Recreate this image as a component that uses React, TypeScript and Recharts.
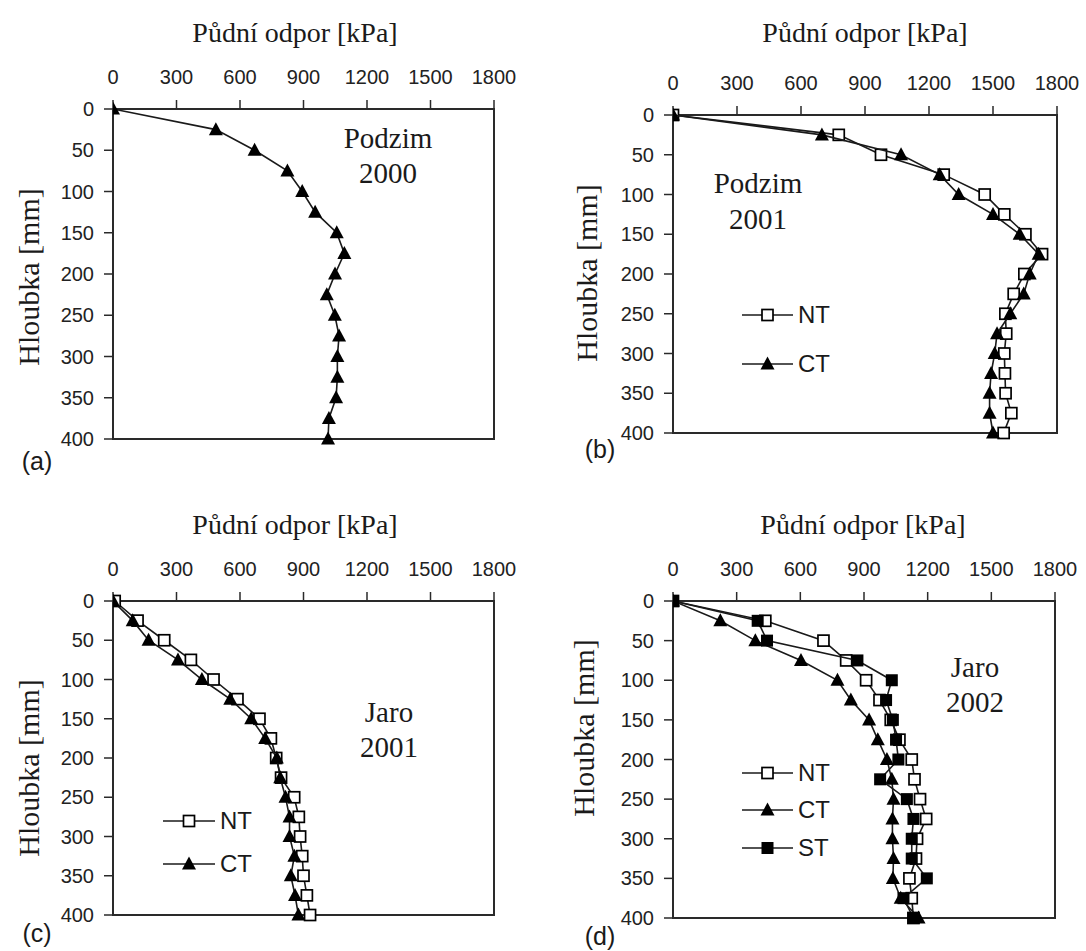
import { ScatterChart, Scatter, XAxis, YAxis, ReferenceArea } from 'recharts';

// hloubka [mm] – společná pro všechny panely
const DEPTHS = [0, 25, 50, 75, 100, 125, 150, 175, 200, 225, 250, 275, 300, 325, 350, 375, 400];
const KPA_TICKS = [0, 300, 600, 900, 1200, 1500, 1800];
const DEPTH_TICKS = [0, 50, 100, 150, 200, 250, 300, 350, 400];

// (a) Podzim 2000
const podzim2000CT = [0, 486, 669, 824, 894, 955, 1057, 1093, 1049, 1010, 1048, 1068, 1060, 1060, 1054, 1020, 1016];

// (b) Podzim 2001
const podzim2001NT = [0, 777, 975, 1269, 1461, 1553, 1652, 1730, 1647, 1597, 1558, 1562, 1553, 1556, 1559, 1586, 1550];
const podzim2001CT = [0, 698, 1069, 1250, 1339, 1500, 1625, 1714, 1672, 1644, 1581, 1519, 1508, 1491, 1484, 1484, 1500];

// (c) Jaro 2001
const jaro2001NT = [8, 116, 242, 368, 475, 588, 692, 746, 771, 794, 856, 878, 884, 894, 900, 916, 931];
const jaro2001CT = [0, 93, 168, 307, 420, 554, 653, 719, 774, 790, 815, 834, 834, 857, 840, 860, 876];

// (d) Jaro 2002
const jaro2002NT = [0, 435, 709, 816, 910, 973, 1026, 1067, 1125, 1138, 1164, 1193, 1150, 1145, 1114, 1125, 1133];
const jaro2002CT = [0, 223, 388, 603, 775, 838, 924, 965, 1008, 1031, 1039, 1034, 1034, 1039, 1036, 1073, 1157];
const jaro2002ST = [0, 399, 443, 869, 1031, 1004, 1036, 1051, 1062, 976, 1102, 1133, 1125, 1125, 1196, 1086, 1133];

const SERIF = '"Liberation Serif", "Times New Roman", serif';
const SANS = '"Liberation Sans", Arial, sans-serif';
const INK = '#1a1a1a';
const AXIS = '#2a2a2a';

type Mark = 'tri' | 'open' | 'solid';
type Series = { name: string; values: number[]; mark: Mark };
type Box = { x0: number; x1: number; y0: number; y1: number };

const toPoints = (values: number[]) => DEPTHS.map((d, i) => ({ depth: d, kpa: values[i] }));

const Triangle = (p: any) => (
  <polygon
    points={`${p.cx},${p.cy - 7.5} ${p.cx - 7},${p.cy + 5.5} ${p.cx + 7},${p.cy + 5.5}`}
    fill="#000"
  />
);
const OpenSquare = (p: any) => (
  <rect x={p.cx - 5.5} y={p.cy - 5.5} width={11} height={11} fill="#fff" stroke="#000" strokeWidth={1.7} />
);
const SolidSquare = (p: any) => (
  <rect x={p.cx - 6} y={p.cy - 6} width={12} height={12} fill="#000" />
);

const SHAPES: Record<Mark, (p: any) => JSX.Element> = {
  tri: Triangle,
  open: OpenSquare,
  solid: SolidSquare,
};

function Panel({ plot, series }: { plot: Box; series: Series[] }) {
  const pw = plot.x1 - plot.x0;
  const ph = plot.y1 - plot.y0;
  return (
    <div style={{ position: 'absolute', left: plot.x0 - 100, top: plot.y0 - 60 }}>
      <ScatterChart width={pw + 130} height={ph + 80} margin={{ top: 20, left: 40, right: 30, bottom: 20 }}>
        <XAxis
          type="number"
          dataKey="kpa"
          orientation="top"
          domain={[0, 1800]}
          ticks={KPA_TICKS}
          height={40}
          tickSize={9}
          tickMargin={16}
          tick={{ fontSize: 20, fill: '#222', fontFamily: SANS }}
          axisLine={{ stroke: AXIS, strokeWidth: 2 }}
          tickLine={{ stroke: AXIS, strokeWidth: 1.5 }}
          allowDataOverflow
        />
        <YAxis
          type="number"
          dataKey="depth"
          domain={[0, 400]}
          reversed
          ticks={DEPTH_TICKS}
          width={60}
          tickSize={9}
          tickMargin={10}
          tick={{ fontSize: 20, fill: '#222', fontFamily: SANS }}
          axisLine={{ stroke: AXIS, strokeWidth: 2 }}
          tickLine={{ stroke: AXIS, strokeWidth: 1.5 }}
        />
        <ReferenceArea x1={0} x2={1800} y1={0} y2={400} fill="none" fillOpacity={0} stroke={AXIS} strokeWidth={2} />
        {series.map((s) => (
          <Scatter
            key={s.name}
            name={s.name}
            data={toPoints(s.values)}
            line={{ stroke: INK, strokeWidth: 1.6 }}
            lineType="joint"
            shape={SHAPES[s.mark]}
            isAnimationActive={false}
          />
        ))}
      </ScatterChart>
    </div>
  );
}

function Txt({ x, y, children, font = SERIF, size = 28, lh = 34 }: any) {
  return (
    <div
      style={{
        position: 'absolute',
        left: x - 200,
        top: y - lh / 2,
        width: 400,
        textAlign: 'center',
        fontFamily: font,
        fontSize: size,
        lineHeight: `${lh}px`,
        color: INK,
        whiteSpace: 'nowrap',
      }}
    >
      {children}
    </div>
  );
}

function YLabel({ x, y }: { x: number; y: number }) {
  return (
    <div
      style={{
        position: 'absolute',
        left: x,
        top: y,
        transform: 'translate(-50%, -50%) rotate(-90deg)',
        fontFamily: SERIF,
        fontSize: 30,
        lineHeight: '34px',
        color: INK,
        whiteSpace: 'nowrap',
      }}
    >
      Hloubka [mm]
    </div>
  );
}

function LegendBox({ x0, x1, rows }: { x0: number; x1: number; rows: { y: number; name: string; mark: Mark }[] }) {
  return (
    <>
      {rows.map((r) => {
        const Shape = SHAPES[r.mark];
        return (
          <div key={r.name} style={{ position: 'absolute', left: x0, top: r.y - 15 }}>
            <svg width={x1 - x0 + 2} height={30} style={{ position: 'absolute', left: 0, top: 0 }}>
              <line x1={0} y1={15} x2={x1 - x0} y2={15} stroke={INK} strokeWidth={1.6} />
              <Shape cx={(x1 - x0) / 2} cy={15} />
            </svg>
            <span
              style={{
                position: 'absolute',
                left: x1 - x0 + 5,
                top: 0,
                fontFamily: SANS,
                fontSize: 24,
                lineHeight: '30px',
                color: INK,
              }}
            >
              {r.name}
            </span>
          </div>
        );
      })}
    </>
  );
}

export default function App() {
  return (
    <div style={{ position: 'absolute', left: 0, top: 0, width: 1086, height: 951, background: '#fff', overflow: 'hidden' }}>
      {/* (a) */}
      <Txt x={295} y={33}>Půdní odpor [kPa]</Txt>
      <YLabel x={29} y={277} />
      <Panel plot={{ x0: 113, x1: 494, y0: 109, y1: 439 }} series={[{ name: 'CT', values: podzim2000CT, mark: 'tri' }]} />
      <Txt x={388} y={138} size={29}>Podzim</Txt>
      <Txt x={388} y={173} size={29}>2000</Txt>
      <Txt x={37} y={461} font={SANS} size={25}>(a)</Txt>

      {/* (b) */}
      <Txt x={865} y={33}>Půdní odpor [kPa]</Txt>
      <YLabel x={587} y={273} />
      <Panel
        plot={{ x0: 673, x1: 1057, y0: 115, y1: 433 }}
        series={[
          { name: 'NT', values: podzim2001NT, mark: 'open' },
          { name: 'CT', values: podzim2001CT, mark: 'tri' },
        ]}
      />
      <Txt x={758} y={183} size={29}>Podzim</Txt>
      <Txt x={758} y={219} size={29}>2001</Txt>
      <LegendBox
        x0={742}
        x1={793}
        rows={[
          { y: 315, name: 'NT', mark: 'open' },
          { y: 364, name: 'CT', mark: 'tri' },
        ]}
      />
      <Txt x={600} y={449} font={SANS} size={25}>(b)</Txt>

      {/* (c) */}
      <Txt x={295} y={525}>Půdní odpor [kPa]</Txt>
      <YLabel x={29} y={768} />
      <Panel
        plot={{ x0: 113, x1: 494, y0: 601, y1: 915 }}
        series={[
          { name: 'NT', values: jaro2001NT, mark: 'open' },
          { name: 'CT', values: jaro2001CT, mark: 'tri' },
        ]}
      />
      <Txt x={389} y={712} size={29}>Jaro</Txt>
      <Txt x={389} y={747} size={29}>2001</Txt>
      <LegendBox
        x0={163}
        x1={215}
        rows={[
          { y: 821, name: 'NT', mark: 'open' },
          { y: 864, name: 'CT', mark: 'tri' },
        ]}
      />
      <Txt x={37} y={933} font={SANS} size={25}>(c)</Txt>

      {/* (d) */}
      <Txt x={863} y={525}>Půdní odpor [kPa]</Txt>
      <YLabel x={584} y={728} />
      <Panel
        plot={{ x0: 673, x1: 1055, y0: 601, y1: 918 }}
        series={[
          { name: 'NT', values: jaro2002NT, mark: 'open' },
          { name: 'CT', values: jaro2002CT, mark: 'tri' },
          { name: 'ST', values: jaro2002ST, mark: 'solid' },
        ]}
      />
      <Txt x={975} y={667} size={29}>Jaro</Txt>
      <Txt x={975} y={702} size={29}>2002</Txt>
      <LegendBox
        x0={742}
        x1={793}
        rows={[
          { y: 773, name: 'NT', mark: 'open' },
          { y: 810, name: 'CT', mark: 'tri' },
          { y: 848, name: 'ST', mark: 'solid' },
        ]}
      />
      <Txt x={600} y={936} font={SANS} size={25}>(d)</Txt>
    </div>
  );
}
